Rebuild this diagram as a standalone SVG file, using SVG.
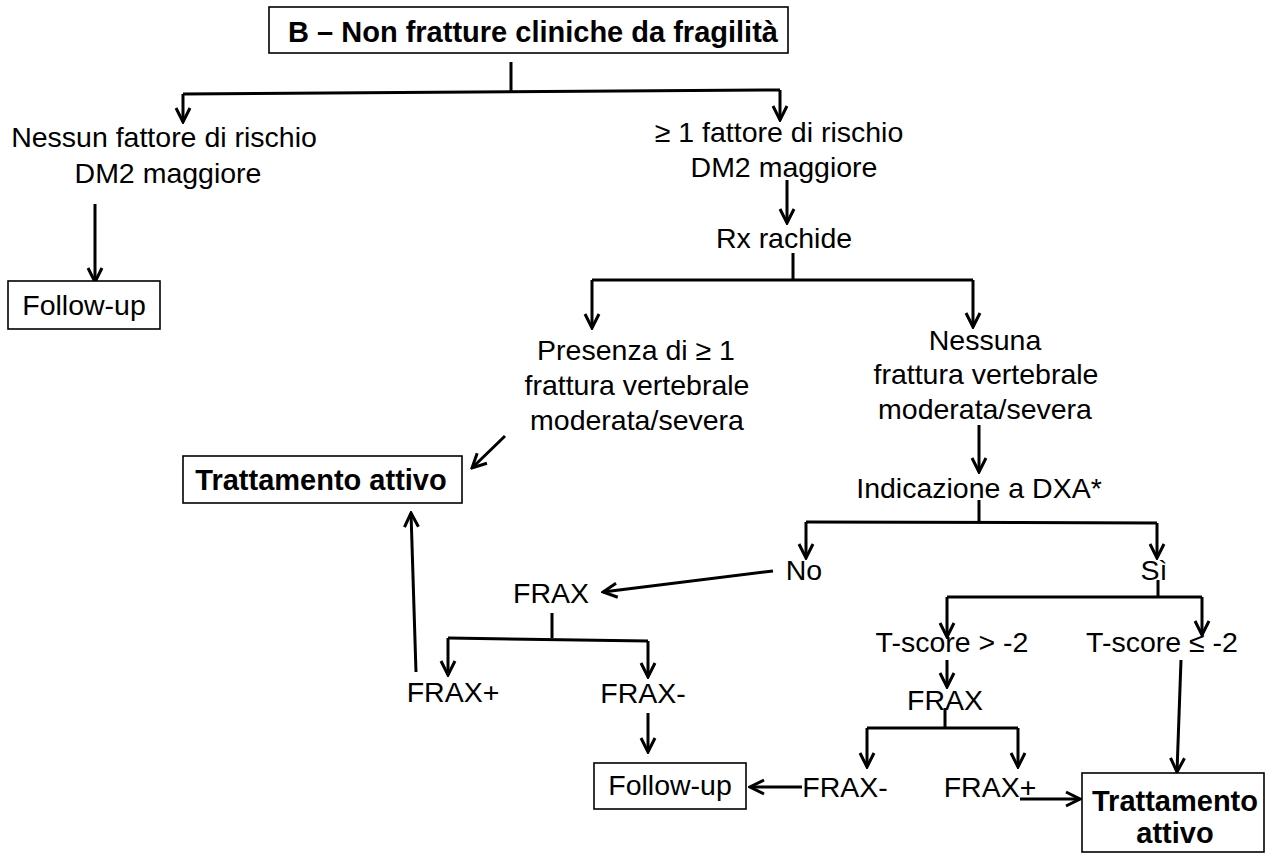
<svg xmlns="http://www.w3.org/2000/svg" width="1274" height="854" viewBox="0 0 1274 854">
  <style>
    text { font-family: "Liberation Sans", Arial, sans-serif; fill: #000; text-anchor: middle; }
    .t { font-size: 28.5px; }
    .b { font-size: 29px; font-weight: bold; }
    .box { fill: #fff; stroke: #000; stroke-width: 1.6; }
    .ln { fill: none; stroke: #000; stroke-width: 3; }
    .ar { fill: none; stroke: #000; stroke-width: 3; marker-end: url(#head); }
  </style>
  <defs>
    <marker id="head" viewBox="0 0 18 18" refX="16" refY="9" markerWidth="18" markerHeight="18" markerUnits="userSpaceOnUse" orient="auto">
      <path d="M2,2 L16,9 L2,16" fill="none" stroke="#000" stroke-width="3" stroke-linejoin="miter"/>
    </marker>
  </defs>
  <rect width="1274" height="854" fill="#fff"/>

  <!-- connectors -->
  <g id="connectors">
    <!-- title split -->
    <path class="ln" d="M511,62 V92"/>
    <path class="ln" d="M183,94 L780,90"/>
    <path class="ar" d="M183,94 V122"/>
    <path class="ar" d="M780,90 V120"/>
    <!-- no risk factor -->
    <path class="ar" d="M95,204 V282"/>
    <!-- risk factor to spine x-ray -->
    <path class="ar" d="M787,180 V223"/>
    <path class="ln" d="M793,253 V280"/>
    <path class="ln" d="M592,280 H973"/>
    <path class="ar" d="M592,280 V328"/>
    <path class="ar" d="M973,280 V327"/>
    <!-- vertebral fracture to treatment -->
    <path class="ar" d="M505,436 L472,468"/>
    <!-- no fracture to DXA -->
    <path class="ar" d="M979,425 V472"/>
    <path class="ln" d="M979,500 V522"/>
    <path class="ln" d="M806,522 L1157,523"/>
    <path class="ar" d="M806,522 V558"/>
    <path class="ar" d="M1157,523 V558"/>
    <!-- No branch -->
    <path class="ar" d="M773,571 L603,592"/>
    <path class="ln" d="M552,613 V638"/>
    <path class="ln" d="M448,638 L648,641"/>
    <path class="ar" d="M448,638 V675"/>
    <path class="ar" d="M648,641 V677"/>
    <path class="ar" d="M416,672 L411,513"/>
    <path class="ar" d="M648,713 V752"/>
    <!-- Sì branch -->
    <path class="ln" d="M1158,580 V597"/>
    <path class="ln" d="M947,597 H1202"/>
    <path class="ar" d="M947,597 V637"/>
    <path class="ar" d="M1202,597 V635"/>
    <path class="ar" d="M947,660 V687"/>
    <path class="ln" d="M945,708 V728"/>
    <path class="ln" d="M867,728 H1018"/>
    <path class="ar" d="M867,728 V767"/>
    <path class="ar" d="M1018,728 V767"/>
    <path class="ar" d="M802,787 H750"/>
    <path class="ar" d="M1020,799 H1080"/>
    <path class="ar" d="M1181,660 L1177,772"/>
  </g>

  <!-- nodes -->
  <g id="title">
    <rect class="box" x="269" y="7" width="519" height="46"/>
    <text class="b" x="533" y="42">B – Non fratture cliniche da fragilità</text>
  </g>
  <g id="no-risk">
    <text class="t" x="164" y="147">Nessun fattore di rischio</text>
    <text class="t" x="168" y="183">DM2 maggiore</text>
  </g>
  <g id="follow-up-1">
    <rect class="box" x="8" y="281" width="152" height="48"/>
    <text class="t" x="84" y="315">Follow-up</text>
  </g>
  <g id="risk">
    <text class="t" x="779" y="142">≥ 1 fattore di rischio</text>
    <text class="t" x="784" y="177">DM2 maggiore</text>
  </g>
  <g id="rx">
    <text class="t" x="784" y="248">Rx rachide</text>
  </g>
  <g id="fracture">
    <text class="t" x="636" y="360">Presenza di ≥ 1</text>
    <text class="t" x="637" y="395">frattura vertebrale</text>
    <text class="t" x="637" y="430">moderata/severa</text>
  </g>
  <g id="no-fracture">
    <text class="t" x="985" y="350">Nessuna</text>
    <text class="t" x="986" y="384">frattura vertebrale</text>
    <text class="t" x="985" y="419">moderata/severa</text>
  </g>
  <g id="treatment-1">
    <rect class="box" x="183" y="456" width="279" height="47"/>
    <text class="b" x="321" y="490">Trattamento attivo</text>
  </g>
  <g id="dxa">
    <text class="t" x="979" y="498">Indicazione a DXA*</text>
  </g>
  <g id="no">
    <text class="t" x="804" y="580">No</text>
  </g>
  <g id="si">
    <text class="t" x="1154" y="580">Sì</text>
  </g>
  <g id="frax-1">
    <text class="t" x="551" y="603">FRAX</text>
  </g>
  <g id="frax-pos-1">
    <text class="t" x="453" y="702">FRAX+</text>
  </g>
  <g id="frax-neg-1">
    <text class="t" x="643" y="703">FRAX-</text>
  </g>
  <g id="follow-up-2">
    <rect class="box" x="594" y="763" width="152" height="46"/>
    <text class="t" x="670" y="795">Follow-up</text>
  </g>
  <g id="tscore-high">
    <text class="t" x="952" y="652">T-score &gt; -2</text>
  </g>
  <g id="tscore-low">
    <text class="t" x="1162" y="652">T-score ≤ -2</text>
  </g>
  <g id="frax-2">
    <text class="t" x="945" y="710">FRAX</text>
  </g>
  <g id="frax-neg-2">
    <text class="t" x="845" y="797">FRAX-</text>
  </g>
  <g id="frax-pos-2">
    <text class="t" x="990" y="797">FRAX+</text>
  </g>
  <g id="treatment-2">
    <rect class="box" x="1082" y="773" width="182" height="79"/>
    <text class="b" x="1175" y="811">Trattamento</text>
    <text class="b" x="1175" y="843">attivo</text>
  </g>
</svg>
